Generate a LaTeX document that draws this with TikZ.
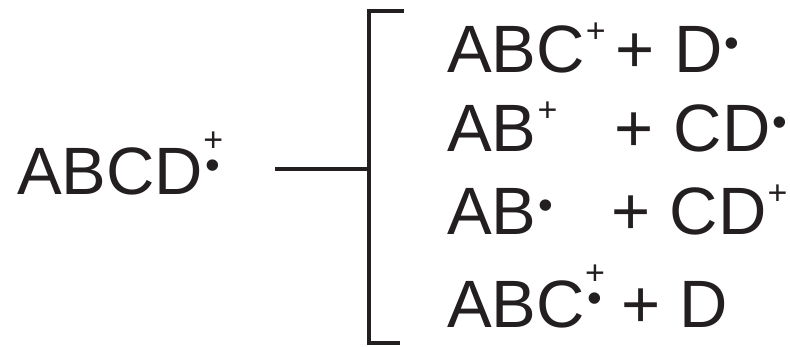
\documentclass[tikz,border=0pt]{standalone}
\usepackage{fontspec}
\setmainfont{Liberation Sans}
\usepackage{xcolor}
\definecolor{fragink}{HTML}{231F20}
\newcommand{\bigfont}{\fontsize{67}{67}\selectfont}
\newcommand{\chgfont}{\fontsize{34}{34}\selectfont}
\newcommand{\dotfont}{\fontsize{42}{42}\selectfont}
\newcommand{\chgplus}{\kern1pt\raisebox{30pt}{\chgfont +}}
\newcommand{\chgdot}{\kern1.5pt\raisebox{15pt}{\dotfont •}}
\newcommand{\chgboth}{\kern1pt\rlap{\makebox[18pt][c]{\raisebox{43pt}{\chgfont +}}}%
  \makebox[18pt][c]{\raisebox{15pt}{\dotfont •}}}

\begin{document}
\begin{tikzpicture}[
  x=1pt,
  y=1pt,
  every node/.style={text=fragink},
  species/.style={anchor=base west, inner sep=0pt, font=\bigfont},
  bracket/.style={fragink, line width=4.3pt, line cap=butt, line join=miter}
]
  % ---- page box, pixel units ----
  \path (0,0) rectangle (790,347);

  % ---- parent ion ----
  \node[species] (abcd) at (17,152) {ABCD\chgboth};

  % ---- fragments, one row each ----
  \node[species] (abcplus) at (447,274) {ABC\chgplus};
  \node[species] (plusa) at (615.7,274) {+};
  \node[species] (drad) at (674.7,274) {D\chgdot};

  \node[species] (abplus) at (447,195) {AB\chgplus};
  \node[species] (plusb) at (614.7,195) {+};
  \node[species] (cdrad) at (673.6,195) {CD\chgdot};

  \node[species] (abrad) at (447,112) {AB\chgdot};
  \node[species] (plusc) at (611.7,112) {+};
  \node[species] (cdplus) at (669.6,112) {CD\chgplus};

  \node[species] (abcboth) at (447,19) {ABC\chgboth};
  \node[species] (plusd) at (621.7,19) {+};
  \node[species] (dneutral) at (679.7,19) {D};

  % ---- bracket ----
  \coordinate (fork) at (369,178);
  \coordinate (stub) at (275,178);
  \coordinate (brtop) at (404,336);
  \coordinate (brbot) at (400,4);
  \draw[bracket] (stub) -- (fork);
  \draw[bracket] (brtop) -- (369,336) -- (369,4) -- (brbot);
\end{tikzpicture}
\end{document}
